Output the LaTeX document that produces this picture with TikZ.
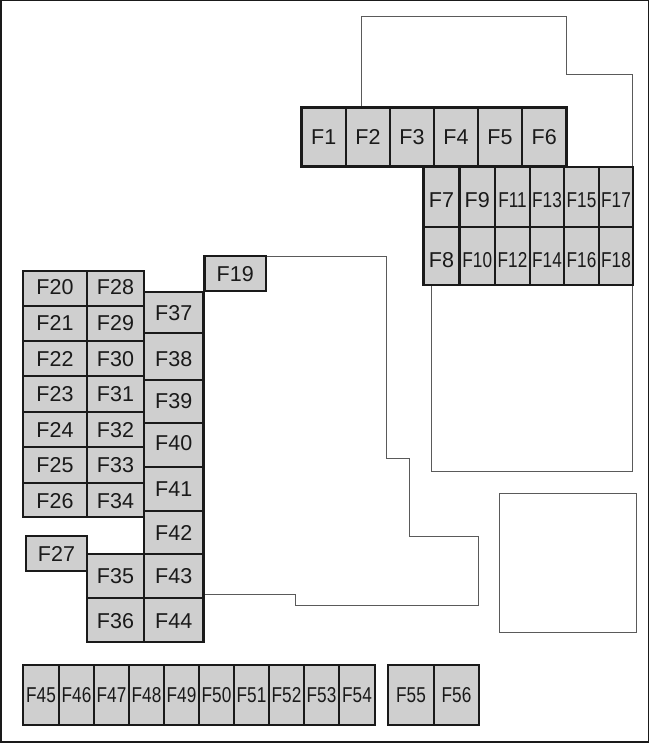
\documentclass[tikz,border=0pt]{standalone}
\usepackage{fontspec}
\usepackage{xcolor}
\setmainfont{Liberation Sans}
\newfontfamily\narrowfont[FakeStretch=0.8]{Liberation Sans}
\definecolor{fusegray}{HTML}{CFCFCF}
\definecolor{inkdark}{HTML}{1A1A1A}
\definecolor{wallgray}{HTML}{5A5A5A}
\tikzset{
  fusebox/.style={fill=fusegray,draw=inkdark,line width=2.1pt,line join=miter},
  fuselabel/.style={inner sep=0pt,text=inkdark,text height=15pt,text depth=0pt,font=\fontsize{21.5}{24}\selectfont},
  narrowlabel/.style={inner sep=0pt,text=inkdark,text height=15pt,text depth=0pt,font=\fontsize{21.5}{24}\selectfont\narrowfont},
  wall/.style={draw=wallgray,line width=0.9pt}
}

\begin{document}
\begin{tikzpicture}[x=1pt,y=-1pt]
    \useasboundingbox (0,0) rectangle (650,743);
    \fill[white] (0,0) rectangle (650,743);
    \draw[draw=inkdark,line width=1.4pt] (0.8,0.8) rectangle (648.6,741.8);
    % outlines behind the fuses
    \draw[wall] (361,107) -- (361,16) -- (566,16) -- (566,74) -- (632.5,74) -- (632.5,167);
    \draw[wall] (431,285) -- (431,471) -- (632.5,471) -- (632.5,285);
    \draw[wall] (266,256) -- (386,256) -- (386,458) -- (409,458) -- (409,536) -- (478,536) -- (478,605) -- (295,605) -- (295,594) -- (204,594);
    \draw[wall] (499,493) rectangle (636,632);
    % fuses: left, top, right, bottom, label shift, number
    \foreach \xa/\ya/\xb/\yb/\dy/\num in {
      301.5/107.5/346/166.5/0/1, 346/107.5/390/166.5/0/2, 390/107.5/434/166.5/0/3,
      434/107.5/478/166.5/0/4, 478/107.5/522/166.5/0/5, 522/107.5/566.5/166.5/0/6,
      423.5/167/459.5/227/3/7, 423.5/227/459.5/285/4/8, 459.5/167/495/227/3/9,
      204.5/256/266/291/0/19,
      23/271/87/306/-2/20, 23/306/87/341/-1/21, 23/341/87/376/0/22, 23/376/87/412/0/23,
      23/412/87/447/0/24, 23/447/87/483/0/25, 23/483/87/517/1/26, 26/536/87/571/0/27,
      87/271/144/306/-2/28, 87/306/144/341/-1/29, 87/341/144/376/0/30, 87/376/144/412/0/31,
      87/412/144/447/0/32, 87/447/144/483/0/33, 87/483/144/517/1/34,
      87/554/144/598/0/35, 87/598/144/642/1/36,
      144/292/203.5/333/0/37, 144/333/203.5/380/2/38, 144/380/203.5/423/-1/39,
      144/423/203.5/467/-2/40, 144/467/203.5/511/0/41, 144/511/203.5/554/0/42,
      144/554/203.5/598/0/43, 144/598/203.5/642/1/44}{
      \filldraw[fusebox] (\xa,\ya) rectangle (\xb,\yb);
      \node[fuselabel] (F\num) at ({(\xa+\xb)/2},{(\ya+\yb)/2+\dy}) {F\num};
    }
    % the narrow labels
    \foreach \xa/\ya/\xb/\yb/\dy/\num in {
      459.5/227/495/285/4/10, 495/167/530/227/3/11, 495/227/530/285/4/12,
      530/167/564/227/3/13, 530/227/564/285/4/14, 564/167/599/227/3/15,
      564/227/599/285/4/16, 599/167/633/227/3/17, 599/227/633/285/4/18,
      23/665/59/725/0/45, 59/665/94/725/0/46, 94/665/129/725/0/47, 129/665/164/725/0/48,
      164/665/199/725/0/49, 199/665/234/725/0/50, 234/665/269/725/0/51, 269/665/304/725/0/52,
      304/665/339/725/0/53, 339/665/375/725/0/54,
      388/665/434/725/0/55, 434/665/479/725/0/56}{
      \filldraw[fusebox] (\xa,\ya) rectangle (\xb,\yb);
      \node[narrowlabel] (F\num) at ({(\xa+\xb)/2},{(\ya+\yb)/2+\dy}) {F\num};
    }
\end{tikzpicture}
\end{document}
